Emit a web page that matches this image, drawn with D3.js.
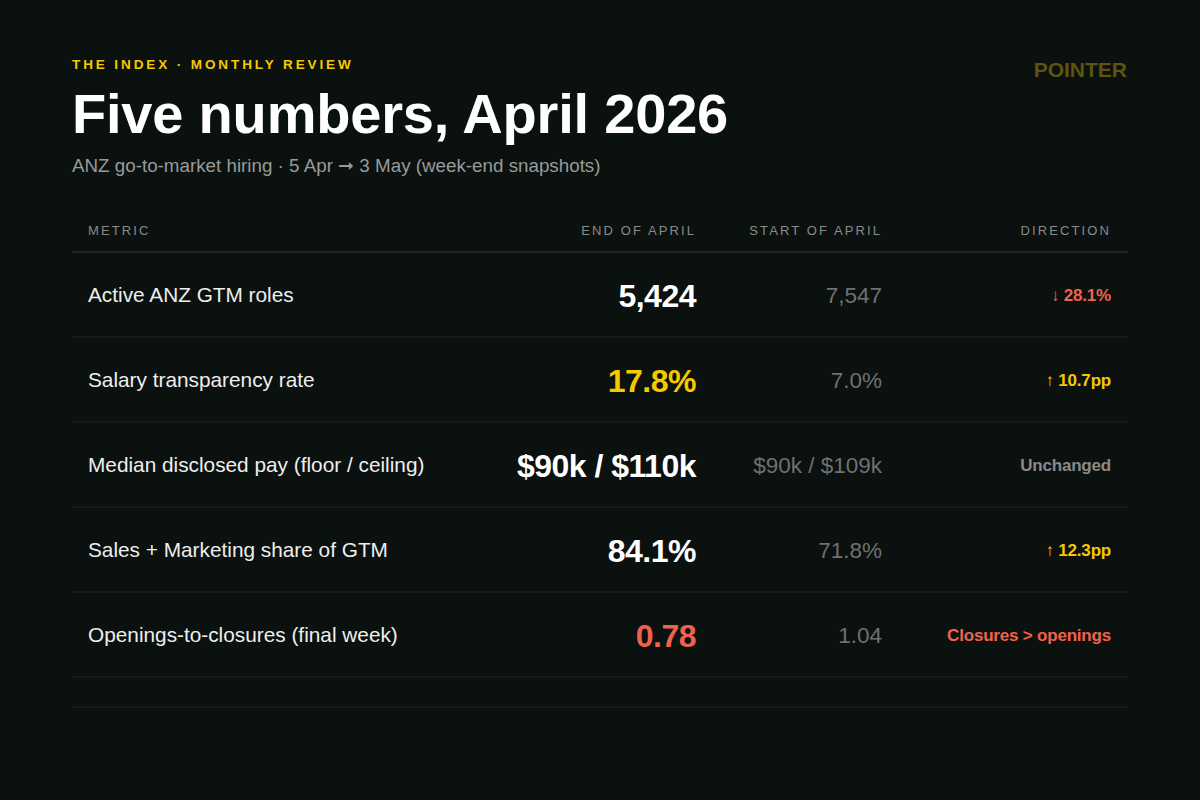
<!DOCTYPE html>
<html><head><meta charset="utf-8">
<script src="https://cdn.jsdelivr.net/npm/d3@7"></script>
<style>body{margin:0;background:#0b110e}svg{display:block}text{font-family:"Liberation Sans",Arial,sans-serif}</style>
</head><body><svg id="c" width="1200" height="800"></svg>
<script>
const metrics = ["Active ANZ GTM roles","Salary transparency rate","Median disclosed pay (floor / ceiling)","Sales + Marketing share of GTM","Openings-to-closures (final week)"];
const endValues = ["5,424","17.8%","$90k / $110k","84.1%","0.78"];
const startValues = ["7,547","7.0%","$90k / $109k","71.8%","1.04"];
const directions = ["↓ 28.1%","↑ 10.7pp","Unchanged","↑ 12.3pp","Closures > openings"];
const tones = ["down","up","flat","up","down"];
const endTones = ["plain","up","plain","plain","down"];
const headers = ["METRIC","END OF APRIL","START OF APRIL","DIRECTION"];

const col = {up:"#f5c800",down:"#f0624d",flat:"#8a8a8a",plain:"#ffffff"};
const svg = d3.select("#c");
svg.append("rect").attr("width",1200).attr("height",800).attr("fill","#0b110e");
svg.append("text").attr("x",72).attr("y",69).attr("fill","#f5c800").attr("font-size",13.5).attr("font-weight",700).attr("letter-spacing",2.9).text("THE INDEX · MONTHLY REVIEW");
svg.append("text").attr("x",1127).attr("y",77).attr("text-anchor","end").attr("fill","#5c5410").attr("font-size",21).attr("font-weight",700).text("POINTER");
svg.append("text").attr("x",72).attr("y",133).attr("fill","#fff").attr("font-size",56).attr("font-weight",700).attr("letter-spacing",-0.2).text("Five numbers, April 2026");
svg.append("text").attr("x",72).attr("y",172).attr("fill","#9a9a9a").attr("font-size",18.8).text("ANZ go-to-market hiring · 5 Apr ➞ 3 May (week-end snapshots)");

const y = d3.scaleBand().domain(metrics).range([252,677]);
const colX = [88,696,882,1111];
const anchors = ["start","end","end","end"];
headers.forEach((h,i)=>svg.append("text").attr("x",colX[i]).attr("y",235).attr("text-anchor",anchors[i]).attr("fill","#8a8a8a").attr("font-size",13).attr("letter-spacing",2.1).text(h));
svg.append("line").attr("x1",72).attr("x2",1128).attr("y1",252).attr("y2",252).attr("stroke","#3a3f3c");

const rows = svg.selectAll("g.row").data(metrics).join("g").attr("transform",d=>`translate(0,${y(d)})`);
const h = y.bandwidth();
rows.append("line").attr("x1",72).attr("x2",1128).attr("y1",h).attr("y2",h).attr("stroke","#1f2522");
rows.append("text").attr("x",colX[0]).attr("y",h/2+7).attr("fill","#eeeeee").attr("font-size",20.8).text(d=>d);
rows.append("text").attr("x",colX[1]).attr("y",h/2+12).attr("text-anchor","end").attr("font-weight",700).attr("font-size",32).attr("letter-spacing",-0.5)
  .attr("fill",(d,i)=>col[endTones[i]]).text((d,i)=>endValues[i]);
rows.append("text").attr("x",colX[2]).attr("y",h/2+8).attr("text-anchor","end").attr("font-size",22.5).attr("fill","#707070").text((d,i)=>startValues[i]);
rows.append("text").attr("x",colX[3]).attr("y",h/2+6).attr("text-anchor","end").attr("font-weight",700).attr("font-size",17).attr("letter-spacing",-0.2)
  .attr("fill",(d,i)=>col[tones[i]]).text((d,i)=>directions[i]);
svg.append("line").attr("x1",72).attr("x2",1128).attr("y1",707).attr("y2",707).attr("stroke","#1f2522");
</script></body></html>
